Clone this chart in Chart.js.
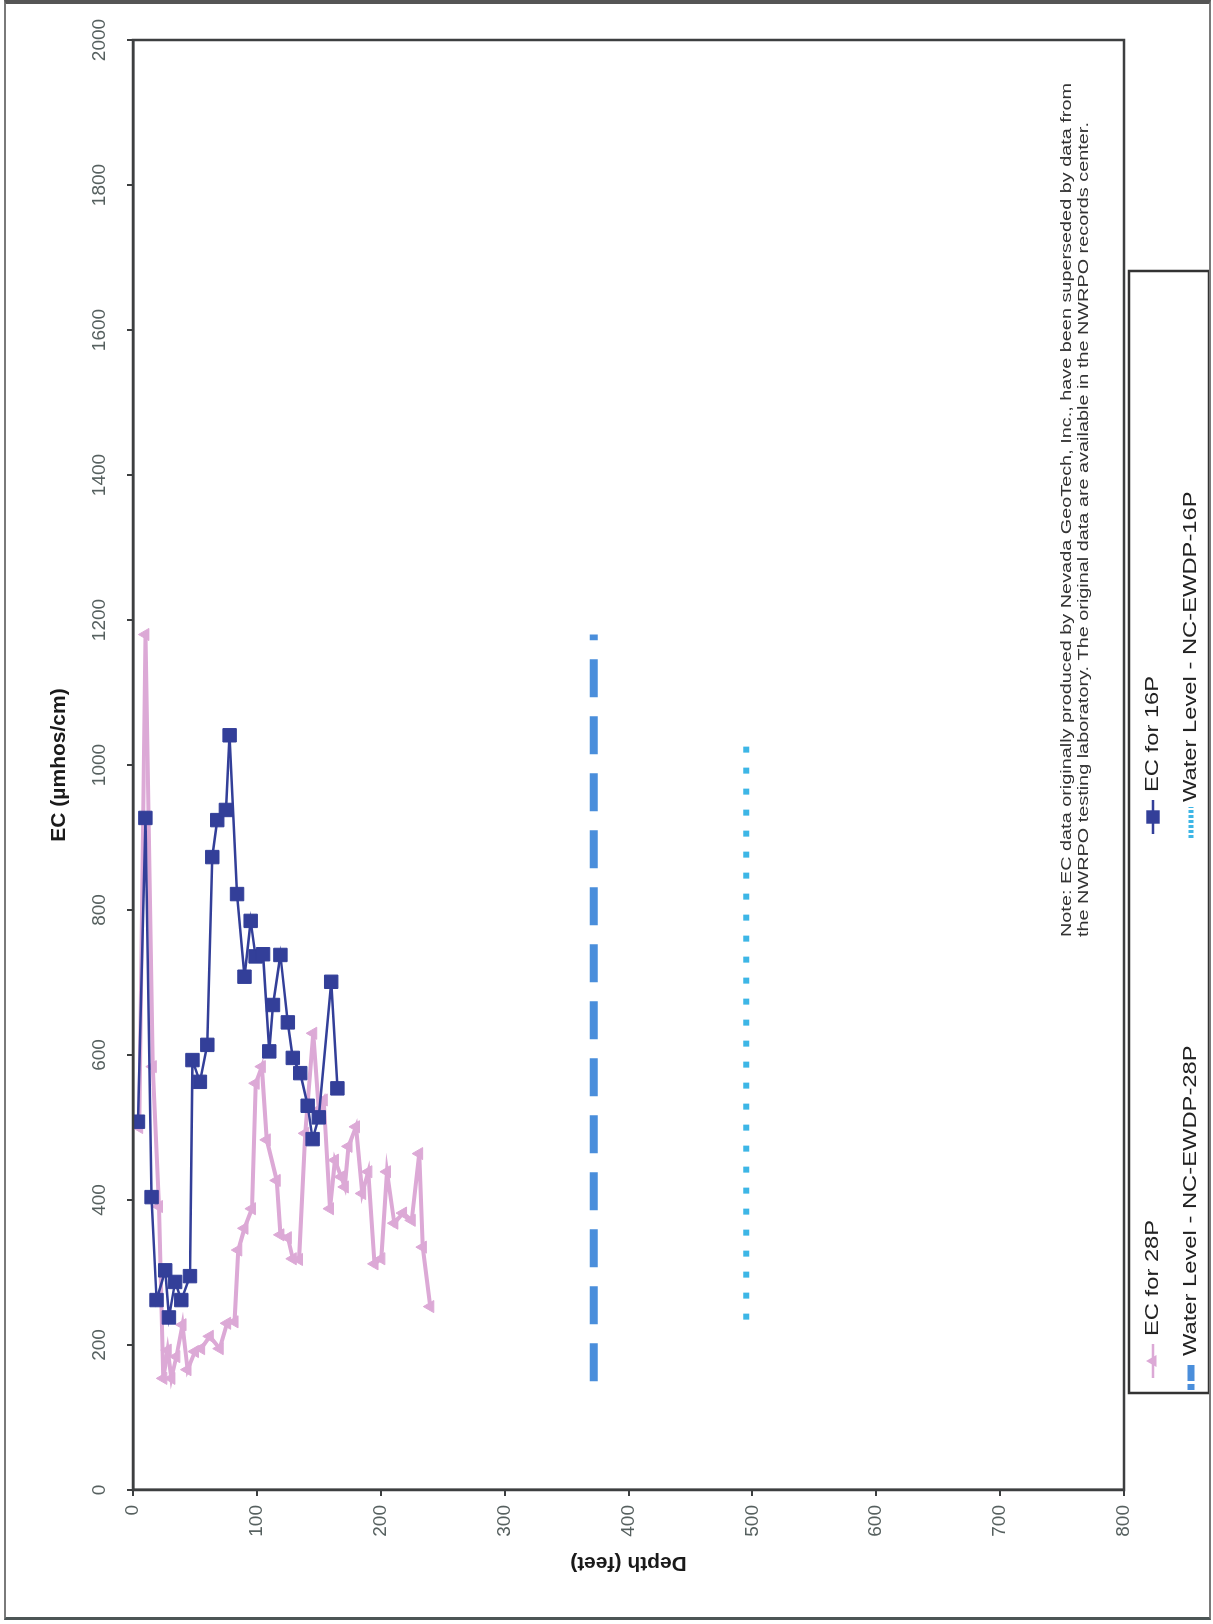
<!DOCTYPE html>
<html>
<head>
<meta charset="utf-8">
<title>EC vs Depth</title>
<script src="https://cdn.jsdelivr.net/npm/chart.js@4.4.1/dist/chart.umd.min.js"></script>
<style>
  html, body { margin: 0; padding: 0; background: #fff; }
  #page { position: relative; width: 1213px; height: 1624px; overflow: hidden; background: #fff; }
  /* chart is drawn in its original landscape orientation, then turned a quarter left */
  #turn { position: absolute; left: 0; top: 0; width: 1624px; height: 1213px;
          transform-origin: 0 0; transform: translate(0, 1624px) rotate(-90deg); }
  #frame { position: absolute; left: 4px; top: 0; width: 1207px; height: 1620px; box-sizing: border-box;
           border: 2px solid #7a7a7a; border-top: 4px solid #555; border-bottom: 3px solid #4d5656;
           pointer-events: none; }
</style>
</head>
<body>
<div id="page">
  <div id="turn"><canvas id="ecChart" width="1624" height="1213" style="width:1624px;height:1213px"></canvas></div>
  <div id="frame"></div>
</div>
<script>
const ecTicks = [0, 200, 400, 600, 800, 1000, 1200, 1400, 1600, 1800, 2000];
const depthTicks = [0, 100, 200, 300, 400, 500, 600, 700, 800];

const seriesNames = ['EC for 28P', 'EC for 16P', 'Water Level - NC-EWDP-28P', 'Water Level - NC-EWDP-16P'];

// EC for 28P (depth in feet, EC in umhos/cm)
const depth28 = [5, 10, 16, 21, 24.5, 28, 31, 35, 40, 44, 50, 55, 62, 70, 76, 82, 85, 90, 96, 99,
  104, 108, 116, 119, 125, 129, 134, 139, 145.5, 150, 154, 159, 163, 168, 171, 174, 180, 185, 190, 195,
  200.5, 205, 211, 218, 225, 231, 234, 240];
const ec28 = [500, 1180, 584, 391, 154, 193, 154, 184, 228, 166, 191, 195, 212, 195, 230, 232, 331, 361, 388, 561,
  584, 483, 427, 352, 348, 319, 318, 492, 630, 525, 538, 388, 455, 432, 418, 474, 501, 409, 439, 312,
  319, 439, 368, 382, 372, 464, 335, 253];

// EC for 16P
const depth16 = [4, 10, 15, 19, 26, 29, 34, 39, 46, 48, 54, 60, 64, 68, 75, 78, 84, 90, 95, 99,
  105, 110, 113, 119, 125, 129, 135, 141, 145, 150, 160, 165];
const ec16 = [508, 927, 404, 262, 303, 238, 287, 262, 295, 593, 563, 614, 873, 924, 938, 1041, 822, 708, 785, 736,
  739, 605, 669, 738, 645, 596, 575, 530, 484, 514, 701, 554];

// water levels
const waterDepth28 = [372, 372];
const waterEc28 = [150, 1180];
const waterDepth16 = [495, 495];
const waterEc16 = [235, 1041];

const noteLines = [
  'Note: EC data originally produced by Nevada GeoTech, Inc., have been superseded by data from',
  'the NWRPO testing laboratory. The original data are available in the NWRPO records center.'
];

const FONT = "'Liberation Sans', Arial, sans-serif";
const AXIS = '#3d3f40';
const TICK = '#56605f';
const PINK = '#DCA9D6';
const NAVY = '#333F99';

Chart.defaults.font.family = FONT;

const pts = (xs, ys) => xs.map((x, i) => ({ x, y: ys[i] }));

function stretchText(ctx, text, x, y, sx) {
  ctx.save();
  ctx.translate(x, y);
  ctx.scale(sx, 1);
  ctx.fillText(text, 0, 0);
  ctx.restore();
}

function drawMarker(ctx, style, r, x, y) {
  ctx.beginPath();
  if (style === 'rect') {
    const s = r * Math.SQRT1_2;
    ctx.rect(x - s, y - s, 2 * s, 2 * s);
  } else if (style === 'triangle') {
    for (let k = 0; k < 3; k++) {
      const a = k * 2 * Math.PI / 3;
      const px = x + Math.sin(a) * r, py = y - Math.cos(a) * r;
      k ? ctx.lineTo(px, py) : ctx.moveTo(px, py);
    }
    ctx.closePath();
  }
  ctx.fill();
}

// legend slots in canvas coordinates (line start, line end, row, text start, dash used in the key)
const legendSlots = [
  { u0: 246, u1: 280, v: 1153, tx: 288 },
  { u0: 790, u1: 824, v: 1153, tx: 832 },
  { u0: 234, u1: 262, v: 1191, tx: 268, dash: [6, 3, 16, 3] },
  { u0: 786, u1: 817, v: 1191, tx: 822, dash: [3, 2] }
];

const extrasPlugin = {
  id: 'extras',
  afterDraw(chart) {
    const { ctx, chartArea: a } = chart;
    ctx.save();
    ctx.strokeStyle = AXIS;
    ctx.lineWidth = 2.5;
    ctx.strokeRect(a.left, a.top, a.right - a.left, a.bottom - a.top);

    // note inside the plot
    ctx.fillStyle = '#333';
    ctx.font = '14px ' + FONT;
    ctx.textBaseline = 'middle';
    const sx = 854 / ctx.measureText(noteLines[0]).width;
    noteLines.forEach((line, i) => stretchText(ctx, line, 687, 1067 + i * 17, sx));

    // legend box
    ctx.strokeStyle = '#333';
    ctx.lineWidth = 2.5;
    ctx.strokeRect(231, 1129, 1353 - 231, 1209 - 1129);
    ctx.font = '19px ' + FONT;
    legendSlots.forEach((slot, i) => {
      const ds = chart.data.datasets[i];
      ctx.save();
      ctx.strokeStyle = ds.borderColor;
      ctx.fillStyle = ds.borderColor;
      ctx.lineWidth = slot.dash ? ds.borderWidth - 1 : 2.5;
      ctx.setLineDash(slot.dash || []);
      ctx.beginPath();
      ctx.moveTo(slot.u0, slot.v);
      ctx.lineTo(slot.u1, slot.v);
      ctx.stroke();
      if (ds.pointRadius) drawMarker(ctx, ds.pointStyle, ds.pointRadius, (slot.u0 + slot.u1) / 2, slot.v);
      ctx.restore();
      ctx.fillStyle = '#222';
      stretchText(ctx, ds.label, slot.tx, slot.v, 1.25);
    });
    ctx.restore();
  }
};

new Chart(document.getElementById('ecChart'), {
  type: 'scatter',
  data: {
    datasets: [
      {
        label: seriesNames[0], data: pts(ec28, depth28), showLine: true, order: 2,
        borderColor: PINK, backgroundColor: PINK, borderWidth: 4,
        pointStyle: 'triangle', pointRadius: 7, pointBorderWidth: 1
      },
      {
        label: seriesNames[1], data: pts(ec16, depth16), showLine: true, order: 1,
        borderColor: NAVY, backgroundColor: NAVY, borderWidth: 2.5,
        pointStyle: 'rect', pointRadius: 9.5, pointBorderWidth: 1
      },
      {
        label: seriesNames[2], data: pts(waterEc28, waterDepth28), showLine: true, order: 3,
        borderColor: '#4A8EDB', borderWidth: 8, borderDash: [38, 19], pointRadius: 0
      },
      {
        label: seriesNames[3], data: pts(waterEc16, waterDepth16), showLine: true, order: 4,
        borderColor: '#3DB6E6', borderWidth: 6, borderDash: [6, 15], pointRadius: 0
      }
    ]
  },
  options: {
    responsive: false,
    animation: false,
    events: [],
    layout: { padding: { left: 0, top: 0, right: 40, bottom: 89 } },
    plugins: { legend: { display: false }, tooltip: { enabled: false } },
    scales: {
      x: {
        type: 'linear', position: 'top', min: 0, max: 2000,
        afterBuildTicks: s => { s.ticks = ecTicks.map(value => ({ value })); },
        afterFit: s => { s.height = 133; },
        grid: { display: true, drawOnChartArea: false, drawTicks: true, tickLength: 6, color: AXIS, lineWidth: 2 },
        border: { display: true, color: AXIS, width: 2.5 },
        ticks: { color: TICK, font: { size: 19 }, padding: 16, maxRotation: 0, autoSkip: false,
                 callback: v => String(v) },
        title: { display: true, text: 'EC (µmhos/cm)', color: '#1a1a1a',
                 font: { size: 21, weight: 'bold' }, padding: { top: 47, bottom: 0 } }
      },
      y: {
        type: 'linear', position: 'left', reverse: true, min: 0, max: 800,
        afterBuildTicks: s => { s.ticks = depthTicks.map(value => ({ value })); },
        afterFit: s => { s.width = 134; },
        grid: { display: true, drawOnChartArea: false, drawTicks: true, tickLength: 6, color: AXIS, lineWidth: 2 },
        border: { display: true, color: AXIS, width: 2.5 },
        ticks: { color: TICK, font: { size: 19 }, padding: 9, autoSkip: false, callback: v => String(v) },
        title: { display: true, text: 'Depth (feet)', color: '#1a1a1a',
                 font: { size: 21, weight: 'bold' }, padding: { top: 49, bottom: 0 } }
      }
    }
  },
  plugins: [extrasPlugin]
});
</script>
</body>
</html>
